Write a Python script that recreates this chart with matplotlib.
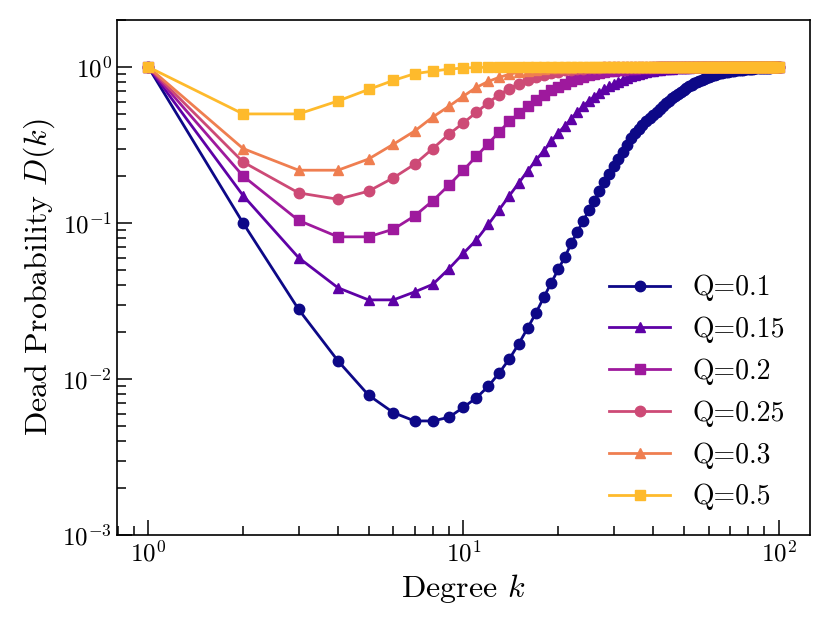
import matplotlib
matplotlib.use("Agg")
import matplotlib.pyplot as plt
import numpy as np

plt.rcParams['font.family'] = ['cmr10', 'DejaVu Serif']
plt.rcParams['mathtext.fontset'] = 'cm'
plt.rcParams['axes.formatter.use_mathtext'] = True
plt.rcParams['axes.unicode_minus'] = False

degrees = list(range(1, 101))

d_q010 = [
    1.0, 0.1, 0.028, 0.0131, 0.0079, 0.0061, 0.0054, 0.0054, 0.0057, 0.0066,
    0.0076, 0.0090, 0.0110, 0.0135, 0.0169, 0.0213, 0.0266, 0.0335, 0.0414, 0.0505,
    0.0608, 0.074, 0.088, 0.103, 0.121, 0.139, 0.160, 0.182, 0.205, 0.231,
    0.258, 0.286, 0.318, 0.350, 0.378, 0.402, 0.426, 0.449, 0.472, 0.495,
    0.518, 0.540, 0.563, 0.585, 0.607, 0.628, 0.650, 0.671, 0.692, 0.712,
    0.731, 0.750, 0.768, 0.785, 0.801, 0.816, 0.830, 0.843, 0.855, 0.866,
    0.876, 0.886, 0.894, 0.902, 0.909, 0.916, 0.922, 0.927, 0.932, 0.937,
    0.942, 0.946, 0.950, 0.953, 0.956, 0.959, 0.962, 0.965, 0.968, 0.970,
    0.972, 0.975, 0.977, 0.979, 0.980, 0.982, 0.983, 0.985, 0.986, 0.987,
    0.988, 0.989, 0.990, 0.991, 0.992, 0.993, 0.993, 0.994, 0.995, 0.995,
]
d_q015 = [
    1.0, 0.15, 0.060, 0.0385, 0.0322, 0.0322, 0.0362, 0.0405, 0.051, 0.064,
    0.078, 0.098, 0.122, 0.150, 0.181, 0.216, 0.253, 0.291, 0.333, 0.378,
    0.420, 0.465, 0.515, 0.562, 0.605, 0.645, 0.683, 0.718, 0.750, 0.780,
    0.806, 0.830, 0.851, 0.870, 0.887, 0.902, 0.915, 0.926, 0.936, 0.945,
    0.952, 0.958, 0.964, 0.969, 0.973, 0.977, 0.980, 0.983, 0.985, 0.987,
    0.989, 0.990, 0.992, 0.993, 0.994, 0.995, 0.996, 0.996, 0.997, 0.997,
    0.998, 0.998, 0.998, 0.999, 0.999, 0.999, 0.999, 0.999, 0.999, 0.999,
    1.0, 1.0, 1.0, 1.0, 1.0, 1.0, 1.0, 1.0, 1.0, 1.0,
    1.0, 1.0, 1.0, 1.0, 1.0, 1.0, 1.0, 1.0, 1.0, 1.0,
    1.0, 1.0, 1.0, 1.0, 1.0, 1.0, 1.0, 1.0, 1.0, 1.0,
]
d_q020 = [
    1.0, 0.20, 0.104, 0.0816, 0.0816, 0.0914, 0.111, 0.139, 0.175, 0.218,
    0.268, 0.323, 0.385, 0.448, 0.505, 0.562, 0.615, 0.665, 0.708, 0.748,
    0.782, 0.812, 0.840, 0.862, 0.882, 0.899, 0.914, 0.927, 0.938, 0.947,
    0.955, 0.962, 0.968, 0.973, 0.977, 0.981, 0.984, 0.987, 0.989, 0.991,
    0.992, 0.993, 0.994, 0.995, 0.996, 0.997, 0.997, 0.998, 0.998, 0.998,
    0.999, 0.999, 0.999, 0.999, 0.999, 0.999, 0.999, 0.999, 0.999, 0.999,
    1.0, 1.0, 1.0, 1.0, 1.0, 1.0, 1.0, 1.0, 1.0, 1.0,
    1.0, 1.0, 1.0, 1.0, 1.0, 1.0, 1.0, 1.0, 1.0, 1.0,
    1.0, 1.0, 1.0, 1.0, 1.0, 1.0, 1.0, 1.0, 1.0, 1.0,
    1.0, 1.0, 1.0, 1.0, 1.0, 1.0, 1.0, 1.0, 1.0, 1.0,
]
d_q025 = [
    1.0, 0.246, 0.156, 0.142, 0.160, 0.195, 0.238, 0.300, 0.371, 0.438,
    0.512, 0.590, 0.665, 0.727, 0.783, 0.828, 0.864, 0.893, 0.916, 0.934,
    0.949, 0.961, 0.970, 0.977, 0.982, 0.986, 0.989, 0.992, 0.994, 0.995,
    0.996, 0.997, 0.998, 0.998, 0.999, 0.999, 0.999, 0.999, 0.999, 0.999,
    1.0, 1.0, 1.0, 1.0, 1.0, 1.0, 1.0, 1.0, 1.0, 1.0,
    1.0, 1.0, 1.0, 1.0, 1.0, 1.0, 1.0, 1.0, 1.0, 1.0,
    1.0, 1.0, 1.0, 1.0, 1.0, 1.0, 1.0, 1.0, 1.0, 1.0,
    1.0, 1.0, 1.0, 1.0, 1.0, 1.0, 1.0, 1.0, 1.0, 1.0,
    1.0, 1.0, 1.0, 1.0, 1.0, 1.0, 1.0, 1.0, 1.0, 1.0,
    1.0, 1.0, 1.0, 1.0, 1.0, 1.0, 1.0, 1.0, 1.0, 1.0,
]
d_q030 = [
    1.0, 0.30, 0.218, 0.218, 0.257, 0.320, 0.388, 0.478, 0.560, 0.650,
    0.740, 0.808, 0.858, 0.898, 0.925, 0.945, 0.959, 0.970, 0.978, 0.984,
    0.988, 0.991, 0.993, 0.995, 0.996, 0.997, 0.998, 0.998, 0.999, 0.999,
    1.0, 1.0, 1.0, 1.0, 1.0, 1.0, 1.0, 1.0, 1.0, 1.0,
    1.0, 1.0, 1.0, 1.0, 1.0, 1.0, 1.0, 1.0, 1.0, 1.0,
    1.0, 1.0, 1.0, 1.0, 1.0, 1.0, 1.0, 1.0, 1.0, 1.0,
    1.0, 1.0, 1.0, 1.0, 1.0, 1.0, 1.0, 1.0, 1.0, 1.0,
    1.0, 1.0, 1.0, 1.0, 1.0, 1.0, 1.0, 1.0, 1.0, 1.0,
    1.0, 1.0, 1.0, 1.0, 1.0, 1.0, 1.0, 1.0, 1.0, 1.0,
    1.0, 1.0, 1.0, 1.0, 1.0, 1.0, 1.0, 1.0, 1.0, 1.0,
]
d_q050 = [
    1.0, 0.50, 0.50, 0.605, 0.717, 0.820, 0.905, 0.940, 0.968, 0.984,
    0.992, 0.996, 0.998, 0.999, 0.999, 1.0, 1.0, 1.0, 1.0, 1.0,
    1.0, 1.0, 1.0, 1.0, 1.0, 1.0, 1.0, 1.0, 1.0, 1.0,
    1.0, 1.0, 1.0, 1.0, 1.0, 1.0, 1.0, 1.0, 1.0, 1.0,
    1.0, 1.0, 1.0, 1.0, 1.0, 1.0, 1.0, 1.0, 1.0, 1.0,
    1.0, 1.0, 1.0, 1.0, 1.0, 1.0, 1.0, 1.0, 1.0, 1.0,
    1.0, 1.0, 1.0, 1.0, 1.0, 1.0, 1.0, 1.0, 1.0, 1.0,
    1.0, 1.0, 1.0, 1.0, 1.0, 1.0, 1.0, 1.0, 1.0, 1.0,
    1.0, 1.0, 1.0, 1.0, 1.0, 1.0, 1.0, 1.0, 1.0, 1.0,
    1.0, 1.0, 1.0, 1.0, 1.0, 1.0, 1.0, 1.0, 1.0, 1.0,
]

series = [d_q010, d_q015, d_q020, d_q025, d_q030, d_q050]
labels = ["Q=0.1", "Q=0.15", "Q=0.2", "Q=0.25", "Q=0.3", "Q=0.5"]
markers = ['o', '^', 's', 'o', '^', 's']
colors = plt.cm.plasma(np.linspace(0, 0.85, len(series)))

fig = plt.figure(figsize=(8.3, 6.23), dpi=100)
ax = fig.add_axes([0.1406, 0.1408, 0.976 - 0.1406, 0.968 - 0.1408])

for ys, lab, m, c in zip(series, labels, markers, colors):
    ax.plot(degrees, ys, marker=m, color=c, label=lab, lw=2.0, ms=7.5)

ax.set_xscale('log')
ax.set_yscale('log')
ax.set_ylim(1e-3, 2)
ax.set_xlim(10 ** -0.1, 10 ** 2.1)

ax.set_xlabel(r'Degree $k$', fontsize=23)
ax.set_ylabel(r'Dead Probability $D(k)$', fontsize=23)

for s in ax.spines.values():
    s.set_linewidth(1.2)
ax.tick_params(which='both', direction='in', top=False, right=False, labelsize=18, width=1.1)
ax.tick_params(which='major', length=10.5)
ax.tick_params(which='minor', length=6.5)

ax.legend(loc='lower right', frameon=False, fontsize=20, handlelength=2.2, labelspacing=0.55)

fig.savefig('out.png', dpi=100)
